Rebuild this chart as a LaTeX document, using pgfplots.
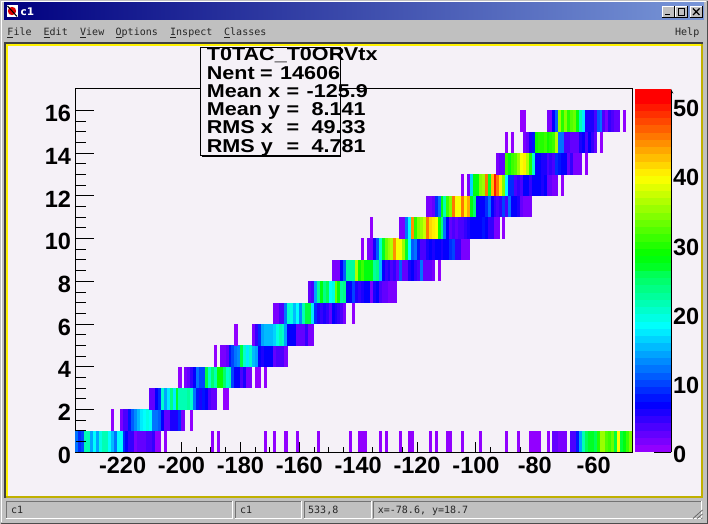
\documentclass[border=0pt]{standalone}
\usepackage{fontspec}
\setmainfont{Liberation Sans}
\newfontfamily\statfont[FakeStretch=1.16]{Liberation Sans}
\newfontfamily\xfont{DejaVu Sans Mono}
\newfontfamily\titlefont{DejaVu Sans}
\usepackage{pgfplots}
\pgfplotsset{compat=1.18}
\definecolor{canvasbg}{RGB}{245,241,247}
\definecolor{chrome}{RGB}{192,192,192}
\definecolor{olive}{RGB}{192,176,0}
\pgfdeclareplotmark{cellmark}{\pgfpathrectangle{\pgfpoint{-1.55bp}{-10.8bp}}{\pgfpoint{3.1bp}{21.6bp}}\pgfusepathqfill}
\pgfdeclareplotmark{bandmark}{\pgfpathrectangle{\pgfpoint{-18bp}{-3.75bp}}{\pgfpoint{36bp}{7.5bp}}\pgfusepathqfill}
\pgfplotsset{
  colormap={rootpal}{
    rgb255=(146,0,255) rgb255=(122,0,255) rgb255=(99,0,255) rgb255=(75,0,255) rgb255=(51,0,255)
    rgb255=(27,0,255) rgb255=(3,0,255) rgb255=(0,20,255) rgb255=(0,44,255) rgb255=(0,68,255)
    rgb255=(0,92,255) rgb255=(0,116,255) rgb255=(0,139,255) rgb255=(0,163,255) rgb255=(0,187,255)
    rgb255=(0,211,255) rgb255=(0,235,255) rgb255=(0,255,252) rgb255=(0,255,228) rgb255=(0,255,204)
    rgb255=(0,255,180) rgb255=(0,255,156) rgb255=(0,255,133) rgb255=(0,255,109) rgb255=(0,255,85)
    rgb255=(0,255,61) rgb255=(0,255,37) rgb255=(0,255,14) rgb255=(10,255,0) rgb255=(34,255,0)
    rgb255=(58,255,0) rgb255=(82,255,0) rgb255=(105,255,0) rgb255=(129,255,0) rgb255=(153,255,0)
    rgb255=(177,255,0) rgb255=(201,255,0) rgb255=(224,255,0) rgb255=(248,255,0) rgb255=(255,238,0)
    rgb255=(255,214,0) rgb255=(255,190,0) rgb255=(255,167,0) rgb255=(255,143,0) rgb255=(255,119,0)
    rgb255=(255,95,0) rgb255=(255,71,0) rgb255=(255,48,0) rgb255=(255,24,0) rgb255=(255,0,0)
    rgb255=(255,0,0)
  },
  cell/.style={scatter,only marks,mark=cellmark,point meta=explicit,
    scatter/use mapped color={draw=none,fill=mapped color}},
  bigtick/.style={tick label style={font=\bfseries\fontsize{23.5bp}{24bp}\selectfont},
    /pgf/number format/assume math mode=true,
    tick style={black,line width=1bp},axis line style={line width=1bp},
    /pgf/number format/1000 sep={}},
}
\begin{document}
\begin{tikzpicture}
\useasboundingbox (0,0) rectangle (708bp,524bp);
\begin{scope}[x=1bp,y=-1bp,yshift=524bp]
  % window chrome
  \fill[chrome] (0,0) rectangle (708,524);
  \draw[white,line width=1bp] (1.5,522) -- (1.5,1.5) -- (706,1.5);
  \draw[black!70,line width=1.5bp] (0.7,523.3) -- (707.3,523.3) -- (707.3,0.7);
  \shade[left color={rgb,255:red,0;green,0;blue,128},right color={rgb,255:red,120;green,150;blue,215}] (4,3) rectangle (704,20);
  % icon
  \fill[white] (7,5.5) rectangle (17.5,17);
  \fill[red!85!black] (12,11) circle (4.2);
  \draw[black,line width=1bp] (7.5,6) -- (17,16.5);
  \node[anchor=base west,inner sep=0,text=white,font=\titlefont\bfseries\fontsize{10.5bp}{11bp}\selectfont] at (20.5,16) {c1};
  % title buttons
  \foreach \bx in {662,675,690}{
    \fill[chrome] (\bx,6) rectangle (\bx+12.5,17.5);
    \draw[white,line width=.8bp] (\bx,17.5) -- (\bx,6) -- (\bx+12.5,6);
    \draw[black,line width=.8bp] (\bx,17.5) -- (\bx+12.5,17.5) -- (\bx+12.5,6);
  }
  \draw[black,line width=1.4bp] (665,14.5) -- (670,14.5);
  \draw[black,line width=.9bp] (678,8.5) rectangle (684.5,15);
  \draw[black,line width=1.1bp] (693,8.5) -- (699.5,15) (699.5,8.5) -- (693,15);
  % menu
  \begin{scope}[every node/.style={anchor=base west,inner sep=0,font=\xfont\fontsize{10bp}{11bp}\selectfont,text=black!85}]
    \node at (7.3,36) {File};   \draw[black!85,line width=.7bp] (7.3,37.5) -- (13,37.5);
    \node at (43.5,36) {Edit};  \draw[black!85,line width=.7bp] (43.5,37.5) -- (49.5,37.5);
    \node at (80,36) {View};    \draw[black!85,line width=.7bp] (80,37.5) -- (86,37.5);
    \node at (115.5,36) {Options}; \draw[black!85,line width=.7bp] (115.5,37.5) -- (121.5,37.5);
    \node at (170,36) {Inspect};   \draw[black!85,line width=.7bp] (170,37.5) -- (176,37.5);
    \node at (224,36) {Classes};   \draw[black!85,line width=.7bp] (224,37.5) -- (230,37.5);
    \node at (675,36) {Help};
  \end{scope}
  % canvas
  \fill[black!75] (4.5,42) rectangle (703,44);
  \fill[black!75] (4.5,42) rectangle (6,498);
  \fill[canvasbg] (6,44) rectangle (700.5,496);
  \fill[olive] (700.5,44) rectangle (702.5,498);
  \fill[olive] (6,496) rectangle (702.5,498);
  \fill[yellow] (6,44) rectangle (700.5,46);
  \fill[yellow] (6,44) rectangle (8,496);
  % status bar
  \begin{scope}[every node/.style={anchor=base west,inner sep=0,font=\xfont\fontsize{10bp}{11bp}\selectfont,text=black!85}]
    \foreach \a/\b in {6/232,235/301,304/371,373.5/701}{
      \draw[black!55,line width=.8bp] (\a,518) -- (\a,501) -- (\b,501);
      \draw[white,line width=.8bp] (\a,518) -- (\b,518) -- (\b,501);
    }
    \node at (11,514) {c1};
    \node at (240,514) {c1};
    \node at (308,514) {533,8};
    \node at (377.7,514) {x=-78.6, y=18.7};
  \end{scope}
  \foreach \d in {0,4,8}{\draw[black!60,line width=.8bp] (701-\d,518.5) -- (702.5,517-\d+1);}
\end{scope}

% data axis: one point per filled bin, (x centre, y centre, content)
\begin{axis}[name=main,at={(75.5bp,71.7bp)},anchor=south west,scale only axis,
  width=556.5bp,height=363.3bp,
  xmin=-236,xmax=-47,ymin=0,ymax=17,
  colormap name=rootpal,colormap access=piecewise constant,
  point meta min=0,point meta max=52.45,
  axis on top,bigtick,
  xtick={-220,-200,-180,-160,-140,-120,-100,-80,-60},minor x tick num=3,
  ytick=\empty,
  tick align=inside,xtick pos=bottom,
  major tick length=10.5bp,minor tick length=5.5bp,
  xticklabel style={yshift=-1bp},
]
\addplot[cell] table[x index=0,y expr=0.5,meta index=1,row sep=\\,header=false]{
-235.5 12\\-234.5 9\\-233.5 10\\-232.5 21\\-231.5 21\\-230.5 14\\-229.5 18\\-228.5 14\\-227.5 19\\-226.5 21\\-225.5 21\\-224.5 18\\-223.5 15\\-222.5 12\\-221.5 18\\-220.5 18\\-219.5 9\\-218.5 7\\-217.5 5\\-216.5 5\\-215.5 2\\-214.5 3\\-213.5 3\\-212.5 3\\-211.5 4\\-210.5 4\\-209.5 5\\-208.5 1\\-207.5 1\\-205.5 1\\-189.5 1\\-187.5 1\\-171.5 1\\-168.5 1\\-164.5 1\\-160.5 1\\-153.5 1\\-142.5 1\\-139.5 1\\-138.5 1\\-137.5 1\\-132.5 1\\-130.5 1\\-125.5 1\\-122.5 1\\-121.5 1\\-115.5 1\\-113.5 1\\-109.5 1\\-108.5 1\\-104.5 1\\-98.5 1\\-89.5 1\\-85.5 1\\-81.5 1\\-80.5 1\\-79.5 1\\-78.5 1\\-75.5 1\\-73.5 3\\-72.5 3\\-71.5 2\\-70.5 2\\-69.5 2\\-67.5 4\\-66.5 4\\-65.5 8\\-64.5 14\\-63.5 21\\-62.5 25\\-61.5 27\\-60.5 27\\-59.5 25\\-58.5 30\\-57.5 35\\-56.5 35\\-55.5 32\\-54.5 31\\-53.5 33\\-52.5 26\\-51.5 40\\-50.5 26\\-49.5 28\\-48.5 31\\-47.5 34\\
};
\addplot[cell] table[x index=0,y expr=1.5,meta index=1,row sep=\\,header=false]{
-223.5 1\\-220.5 2\\-219.5 4\\-218.5 4\\-217.5 8\\-216.5 11\\-215.5 13\\-214.5 15\\-213.5 17\\-212.5 18\\-211.5 19\\-210.5 18\\-209.5 12\\-208.5 12\\-207.5 11\\-206.5 7\\-205.5 3\\-204.5 3\\-203.5 6\\-202.5 6\\-201.5 6\\-200.5 9\\-199.5 2\\-196.5 1\\
};
\addplot[cell] table[x index=0,y expr=2.5,meta index=1,row sep=\\,header=false]{
-210.5 3\\-209.5 3\\-208.5 7\\-207.5 9\\-206.5 20\\-205.5 14\\-204.5 17\\-203.5 23\\-202.5 17\\-201.5 27\\-200.5 21\\-199.5 21\\-198.5 21\\-197.5 22\\-196.5 20\\-195.5 12\\-194.5 8\\-193.5 6\\-192.5 8\\-191.5 7\\-190.5 4\\-189.5 3\\-188.5 3\\-185.5 1\\-184.5 1\\
};
\addplot[cell] table[x index=0,y expr=3.5,meta index=1,row sep=\\,header=false]{
-200.5 1\\-198.5 2\\-197.5 3\\-196.5 5\\-195.5 7\\-194.5 12\\-193.5 10\\-192.5 10\\-191.5 26\\-190.5 20\\-189.5 24\\-188.5 21\\-187.5 29\\-186.5 29\\-185.5 24\\-184.5 20\\-183.5 21\\-182.5 10\\-181.5 7\\-180.5 7\\-179.5 4\\-178.5 6\\-177.5 2\\-176.5 2\\-174.5 1\\-173.5 1\\-171.5 1\\
};
\addplot[cell] table[x index=0,y expr=4.5,meta index=1,row sep=\\,header=false]{
-188.5 1\\-186.5 2\\-185.5 2\\-184.5 3\\-183.5 8\\-182.5 10\\-181.5 12\\-180.5 13\\-179.5 26\\-178.5 20\\-177.5 17\\-176.5 20\\-175.5 15\\-174.5 14\\-173.5 7\\-172.5 6\\-171.5 7\\-170.5 7\\-169.5 7\\-168.5 3\\-167.5 4\\-166.5 4\\-165.5 4\\-164.5 2\\
};
\addplot[cell] table[x index=0,y expr=5.5,meta index=1,row sep=\\,header=false]{
-181.5 1\\-175.5 2\\-174.5 5\\-173.5 9\\-172.5 14\\-171.5 15\\-170.5 15\\-169.5 15\\-168.5 16\\-167.5 19\\-166.5 21\\-165.5 20\\-164.5 14\\-163.5 7\\-162.5 7\\-161.5 7\\-160.5 3\\-159.5 3\\-158.5 3\\-157.5 5\\-156.5 2\\-155.5 2\\
};
\addplot[cell] table[x index=0,y expr=6.5,meta index=1,row sep=\\,header=false]{
-168.5 2\\-167.5 2\\-166.5 4\\-165.5 4\\-164.5 12\\-163.5 20\\-162.5 19\\-161.5 15\\-160.5 18\\-159.5 13\\-158.5 21\\-157.5 26\\-156.5 26\\-155.5 17\\-154.5 9\\-153.5 6\\-152.5 5\\-151.5 6\\-150.5 5\\-149.5 3\\-148.5 7\\-147.5 6\\-146.5 5\\-145.5 4\\-144.5 2\\-141.5 1\\
};
\addplot[cell] table[x index=0,y expr=7.5,meta index=1,row sep=\\,header=false]{
-156.5 3\\-155.5 4\\-154.5 14\\-153.5 22\\-152.5 28\\-151.5 23\\-150.5 25\\-149.5 18\\-148.5 19\\-147.5 33\\-146.5 28\\-145.5 22\\-144.5 23\\-143.5 7\\-142.5 7\\-141.5 10\\-140.5 6\\-139.5 5\\-138.5 6\\-137.5 7\\-136.5 7\\-135.5 2\\-134.5 6\\-133.5 7\\-132.5 4\\-131.5 3\\-130.5 3\\-129.5 2\\-128.5 2\\-127.5 2\\
};
\addplot[cell] table[x index=0,y expr=8.5,meta index=1,row sep=\\,header=false]{
-148.5 2\\-147.5 2\\-146.5 2\\-145.5 7\\-144.5 11\\-143.5 22\\-142.5 22\\-141.5 22\\-140.5 37\\-139.5 29\\-138.5 31\\-137.5 28\\-136.5 28\\-135.5 28\\-134.5 22\\-133.5 23\\-132.5 15\\-131.5 7\\-130.5 5\\-129.5 6\\-128.5 4\\-127.5 5\\-126.5 3\\-125.5 11\\-124.5 3\\-123.5 3\\-122.5 6\\-121.5 7\\-120.5 5\\-119.5 4\\-118.5 12\\-117.5 3\\-116.5 3\\-115.5 3\\-114.5 2\\-112.5 1\\
};
\addplot[cell] table[x index=0,y expr=9.5,meta index=1,row sep=\\,header=false]{
-138.5 1\\-136.5 2\\-135.5 2\\-134.5 6\\-133.5 11\\-132.5 20\\-131.5 27\\-130.5 33\\-129.5 35\\-128.5 36\\-127.5 45\\-126.5 40\\-125.5 40\\-124.5 35\\-123.5 27\\-122.5 18\\-121.5 11\\-120.5 12\\-119.5 8\\-118.5 4\\-117.5 4\\-116.5 6\\-115.5 7\\-114.5 6\\-113.5 7\\-112.5 7\\-111.5 6\\-110.5 7\\-109.5 7\\-108.5 9\\-107.5 10\\-106.5 5\\-105.5 5\\-104.5 2\\-103.5 2\\-102.5 2\\
};
\addplot[cell] table[x index=0,y expr=10.5,meta index=1,row sep=\\,header=false]{
-135.5 1\\-125.5 2\\-124.5 2\\-123.5 12\\-122.5 18\\-121.5 45\\-120.5 30\\-119.5 34\\-118.5 35\\-117.5 38\\-116.5 46\\-115.5 42\\-114.5 41\\-113.5 40\\-112.5 29\\-111.5 23\\-110.5 12\\-109.5 7\\-108.5 3\\-107.5 4\\-106.5 3\\-105.5 4\\-104.5 4\\-103.5 5\\-102.5 6\\-101.5 7\\-100.5 7\\-99.5 7\\-98.5 7\\-97.5 8\\-96.5 7\\-95.5 5\\-94.5 5\\-93.5 2\\-92.5 2\\-90.5 1\\
};
\addplot[cell] table[x index=0,y expr=11.5,meta index=1,row sep=\\,header=false]{
-116.5 2\\-115.5 2\\-114.5 3\\-113.5 9\\-112.5 12\\-111.5 28\\-110.5 21\\-109.5 31\\-108.5 34\\-107.5 46\\-106.5 40\\-105.5 40\\-104.5 46\\-103.5 41\\-102.5 44\\-101.5 28\\-100.5 24\\-99.5 7\\-98.5 7\\-97.5 7\\-96.5 9\\-95.5 12\\-94.5 7\\-93.5 5\\-92.5 4\\-91.5 5\\-90.5 10\\-89.5 4\\-88.5 12\\-87.5 7\\-86.5 7\\-85.5 6\\-84.5 3\\-83.5 2\\-82.5 2\\-81.5 2\\
};
\addplot[cell] table[x index=0,y expr=12.5,meta index=1,row sep=\\,header=false]{
-104.5 1\\-102.5 2\\-101.5 16\\-100.5 28\\-99.5 28\\-98.5 34\\-97.5 35\\-96.5 46\\-95.5 27\\-94.5 43\\-93.5 50\\-92.5 46\\-91.5 41\\-90.5 34\\-89.5 18\\-88.5 9\\-87.5 9\\-86.5 4\\-85.5 5\\-84.5 4\\-83.5 7\\-82.5 7\\-81.5 5\\-80.5 7\\-79.5 7\\-78.5 7\\-77.5 6\\-76.5 7\\-75.5 3\\-74.5 3\\-73.5 2\\-72.5 2\\-70.5 1\\
};
\addplot[cell] table[x index=0,y expr=13.5,meta index=1,row sep=\\,header=false]{
-92.5 2\\-91.5 3\\-90.5 3\\-89.5 31\\-88.5 28\\-87.5 31\\-86.5 32\\-85.5 35\\-84.5 40\\-83.5 41\\-82.5 37\\-81.5 30\\-80.5 20\\-79.5 7\\-78.5 7\\-77.5 6\\-76.5 6\\-75.5 4\\-74.5 5\\-73.5 4\\-72.5 9\\-71.5 8\\-70.5 7\\-69.5 7\\-68.5 3\\-67.5 5\\-66.5 2\\-65.5 2\\-64.5 2\\-62.5 1\\
};
\addplot[cell] table[x index=0,y expr=14.5,meta index=1,row sep=\\,header=false]{
-89.5 1\\-87.5 1\\-83.5 2\\-82.5 3\\-81.5 6\\-80.5 8\\-79.5 29\\-78.5 30\\-77.5 30\\-76.5 31\\-75.5 29\\-74.5 30\\-73.5 31\\-72.5 36\\-71.5 12\\-70.5 12\\-69.5 4\\-68.5 4\\-67.5 3\\-66.5 3\\-65.5 3\\-64.5 6\\-63.5 7\\-62.5 4\\-61.5 7\\-60.5 5\\-59.5 3\\-57.5 1\\
};
\addplot[cell] table[x index=0,y expr=15.5,meta index=1,row sep=\\,header=false]{
-84.5 1\\-83.5 1\\-75.5 2\\-74.5 2\\-73.5 7\\-72.5 11\\-71.5 35\\-70.5 30\\-69.5 34\\-68.5 30\\-67.5 32\\-66.5 33\\-65.5 28\\-64.5 21\\-63.5 17\\-62.5 6\\-61.5 6\\-60.5 6\\-59.5 4\\-58.5 11\\-57.5 12\\-56.5 4\\-55.5 2\\-54.5 5\\-53.5 4\\-52.5 3\\-51.5 3\\-49.5 1\\
};
\end{axis}

% y ticks: same frame, longer ticks
\begin{axis}[at={(75.5bp,71.7bp)},anchor=south west,scale only axis,
  width=556.5bp,height=363.3bp,
  xmin=-236,xmax=-47,ymin=0,ymax=17,
  bigtick,axis line style={draw=none},
  xtick=\empty,ytick={0,2,4,6,8,10,12,14,16},minor y tick num=3,
  tick align=inside,ytick pos=left,
  major tick length=18bp,minor tick length=10bp,
  yticklabel style={xshift=-1bp,yshift=-3bp},
]
\end{axis}

% colour scale
\begin{axis}[at={(635bp,71.7bp)},anchor=south west,scale only axis,
  width=36bp,height=363.3bp,
  xmin=0,xmax=1,ymin=0,ymax=52.45,
  colormap name=rootpal,colormap access=piecewise constant,
  point meta min=0,point meta max=52.45,
  axis on top,bigtick,
  axis y line=right,axis x line=none,
  xtick=\empty,ytick={0,10,20,30,40,50},minor y tick num=4,
  tick align=inside,
  major tick length=17bp,minor tick length=8bp,
  yticklabel style={xshift=-1.5bp,yshift=-2.5bp},
]
\addplot[scatter,only marks,mark=bandmark,point meta=explicit,
  scatter/use mapped color={draw=none,fill=mapped color}]
  table[x expr=0.5,y index=0,meta index=0,row sep=\\,header=false]{
0.52\\1.57\\2.62\\3.67\\4.72\\5.77\\6.82\\7.87\\8.92\\9.97\\11.01\\12.06\\13.11\\14.16\\15.21\\16.26\\17.31\\18.36\\19.41\\20.46\\21.51\\22.56\\23.6\\24.65\\25.7\\26.75\\27.8\\28.85\\29.9\\30.95\\32.0\\33.05\\34.1\\35.15\\36.2\\37.24\\38.29\\39.34\\40.39\\41.44\\42.49\\43.54\\44.59\\45.64\\46.69\\47.74\\48.79\\49.83\\50.88\\51.93\\
};
\end{axis}

% statistics box
\begin{scope}[x=1bp,y=-1bp,yshift=524bp]
  \fill[black] (201.5,48) rectangle (340.8,157);
  \fill[canvasbg,draw=black,line width=1bp] (200.8,47.2) rectangle (340,156);
  \begin{scope}[every node/.style={anchor=base west,inner sep=0,font=\statfont\bfseries\fontsize{18.6bp}{19bp}\selectfont}]
    \node at (206.7,61) {T0TAC\_T0ORVtx};
    \node at (206.7,80) {Nent}; \node at (260,80) {=}; \node at (280,80) {14606};
    \node at (206.7,97.5) {Mean x}; \node at (286.5,97.5) {=}; \node at (306.5,97.5) {-125.9};
    \node at (206.7,115.5) {Mean y}; \node at (286.5,115.5) {=}; \node at (311.5,115.5) {8.141};
    \node at (206.7,134) {RMS x}; \node at (286.5,134) {=}; \node at (311.5,134) {49.33};
    \node at (206.7,153) {RMS y}; \node at (286.5,153) {=}; \node at (311.5,153) {4.781};
  \end{scope}
\end{scope}
\end{tikzpicture}
\end{document}
